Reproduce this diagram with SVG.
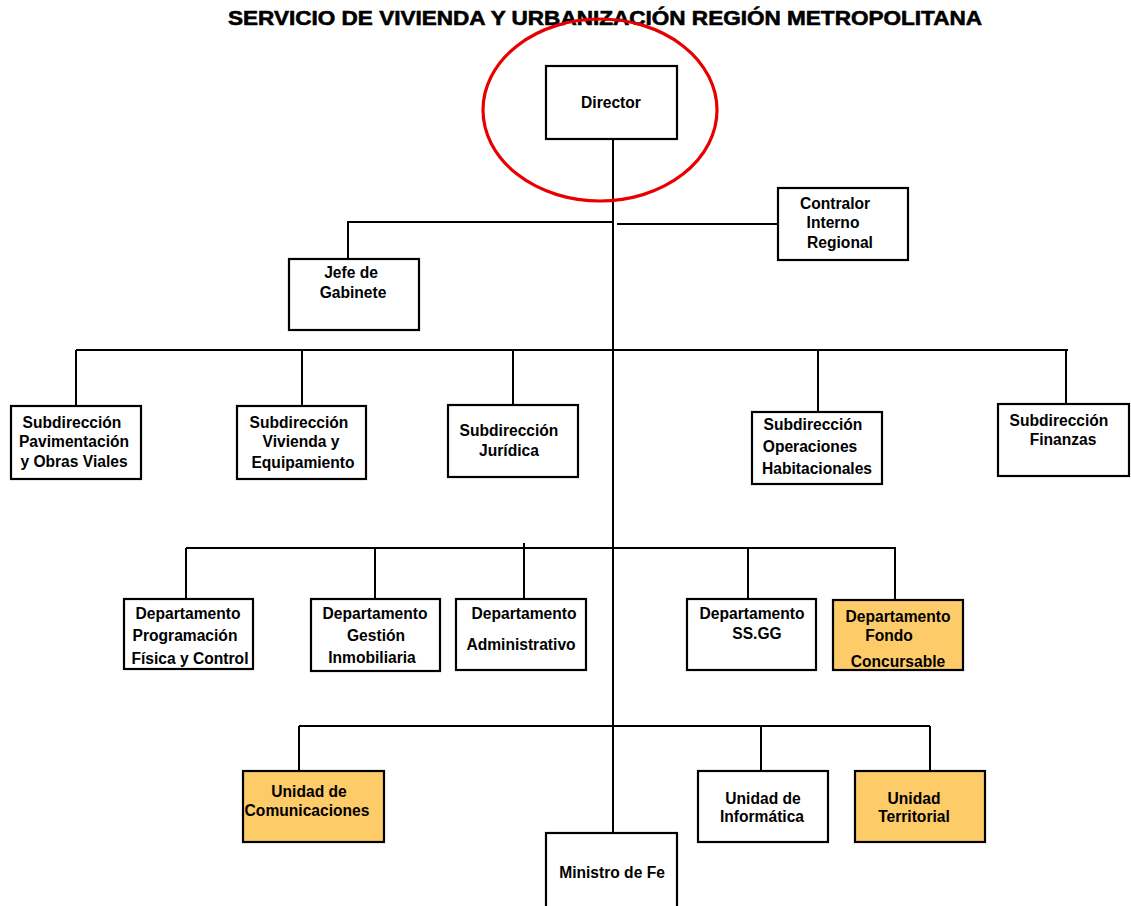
<svg xmlns="http://www.w3.org/2000/svg" width="1131" height="906" viewBox="0 0 1131 906">
<style>
.b{fill:#fff;stroke:#000;stroke-width:2.2}
.o{fill:#FDCB67;stroke:#000;stroke-width:2.2}
.t{font-family:"Liberation Sans",Arial,sans-serif;font-weight:bold;font-size:15.6px;fill:#000;text-anchor:middle}
.c{stroke:#000;stroke-width:2;fill:none}
</style>
<rect width="1131" height="906" fill="#fff"/>
<text x="605" y="25" font-family="Liberation Sans,Arial,sans-serif" font-weight="bold" font-size="20.5" text-anchor="middle" textLength="754" lengthAdjust="spacingAndGlyphs" stroke="#000" stroke-width="0.6">SERVICIO DE VIVIENDA Y URBANIZACIÓN REGIÓN METROPOLITANA</text>
<g id="connectors">
<path class="c" d="M613 139V833"/>
<path class="c" d="M613 222H348V259"/>
<path class="c" d="M617 224H778"/>
<path class="c" d="M76 350H1068M76 350V406M302 350V406M513 350V405M818 350V412M1066 350V404"/>
<path class="c" d="M186 548H896M186 548V599M375 548V599M524 543V599M748 548V599M895 548V600"/>
<path class="c" d="M299 726H930M299 726V771M761 726V771M930 726V771"/>
</g>
<g id="director"><rect class="b" x="546" y="66" width="131" height="73"/><text class="t" x="611" y="108">Director</text></g>
<g id="contralor"><rect class="b" x="778" y="188" width="130" height="72"/><text class="t" x="835" y="209">Contralor</text><text class="t" x="833" y="228">Interno</text><text class="t" x="840" y="248">Regional</text></g>
<g id="jefe"><rect class="b" x="289" y="259" width="130" height="71"/><text class="t" x="351" y="278">Jefe de</text><text class="t" x="353" y="298">Gabinete</text></g>
<g id="sub-pav"><rect class="b" x="11" y="406" width="130" height="73"/><text class="t" x="72" y="428">Subdirección</text><text class="t" x="74" y="447">Pavimentación</text><text class="t" x="74" y="467">y Obras Viales</text></g>
<g id="sub-viv"><rect class="b" x="237" y="406" width="129" height="73"/><text class="t" x="299" y="428">Subdirección</text><text class="t" x="301" y="447">Vivienda  y</text><text class="t" x="303" y="468">Equipamiento</text></g>
<g id="sub-jur"><rect class="b" x="448" y="405" width="130" height="72"/><text class="t" x="509" y="436">Subdirección</text><text class="t" x="509" y="456">Jurídica</text></g>
<g id="sub-ope"><rect class="b" x="752" y="412" width="130" height="72"/><text class="t" x="813" y="430">Subdirección</text><text class="t" x="810" y="452">Operaciones</text><text class="t" x="817" y="474">Habitacionales</text></g>
<g id="sub-fin"><rect class="b" x="998" y="404" width="131" height="72"/><text class="t" x="1059" y="426">Subdirección</text><text class="t" x="1063" y="445">Finanzas</text></g>
<g id="dep-prog"><rect class="b" x="124" y="599" width="129" height="70"/><text class="t" x="188" y="619">Departamento</text><text class="t" x="185" y="641">Programación</text><text class="t" x="190" y="664">Física y Control</text></g>
<g id="dep-gest"><rect class="b" x="311" y="599" width="129" height="72"/><text class="t" x="375" y="619">Departamento</text><text class="t" x="376" y="641">Gestión</text><text class="t" x="372" y="663">Inmobiliaria</text></g>
<g id="dep-adm"><rect class="b" x="456" y="599" width="130" height="71"/><text class="t" x="524" y="619">Departamento</text><text class="t" x="521" y="650">Administrativo</text></g>
<g id="dep-ssgg"><rect class="b" x="687" y="599" width="129" height="71"/><text class="t" x="752" y="619">Departamento</text><text class="t" x="757" y="639">SS.GG</text></g>
<g id="dep-fondo"><rect class="o" x="833" y="600" width="130" height="70"/><text class="t" x="898" y="622">Departamento</text><text class="t" x="889" y="641">Fondo</text><text class="t" x="898" y="667">Concursable</text></g>
<g id="uni-com"><rect class="o" x="243" y="771" width="141" height="71"/><text class="t" x="309" y="797">Unidad de</text><text class="t" x="307" y="816">Comunicaciones</text></g>
<g id="uni-inf"><rect class="b" x="698" y="771" width="130" height="71"/><text class="t" x="763" y="804">Unidad de</text><text class="t" x="762" y="822">Informática</text></g>
<g id="uni-ter"><rect class="o" x="855" y="771" width="130" height="71"/><text class="t" x="914" y="804">Unidad</text><text class="t" x="914" y="822">Territorial</text></g>
<g id="ministro"><rect class="b" x="546" y="833" width="131" height="80"/><text class="t" x="612" y="878">Ministro de Fe</text></g>
<ellipse cx="600" cy="110" rx="117" ry="91" fill="none" stroke="#E80000" stroke-width="3.2"/>
</svg>
